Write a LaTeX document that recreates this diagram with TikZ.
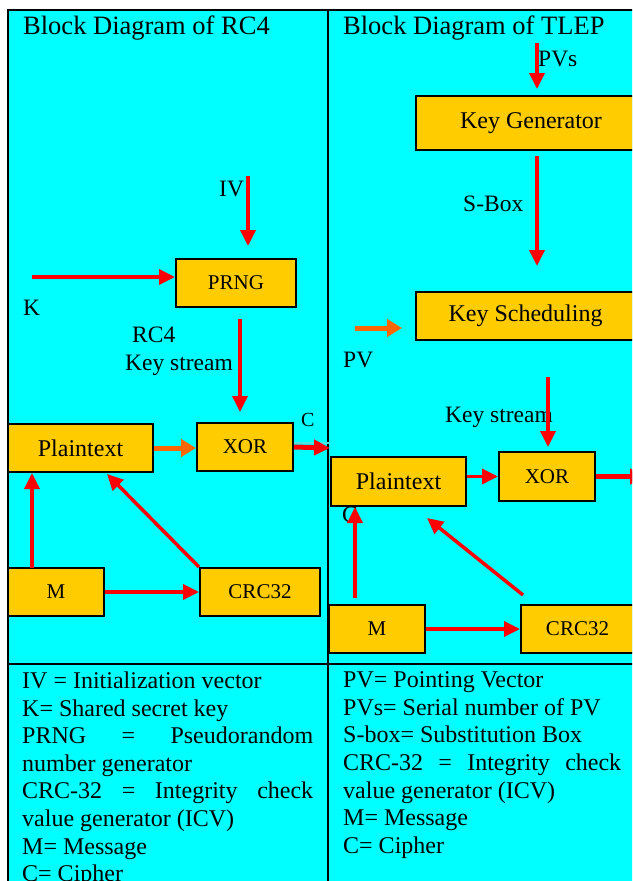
\documentclass[tikz,border=0pt]{standalone}
\usepackage{fontspec}
\setmainfont{Liberation Serif}
\usetikzlibrary{arrows.meta}
\hyphenpenalty=10000
\exhyphenpenalty=10000
\tolerance=10000

\definecolor{bgcyan}{RGB}{0,255,255}
\definecolor{boxgold}{RGB}{255,204,0}
\definecolor{arrred}{RGB}{255,0,0}
\definecolor{arrorange}{RGB}{255,102,0}
\definecolor{seamcyan}{RGB}{80,225,225}

\tikzset{
  blk/.style={draw=black, line width=2pt, fill=boxgold, inner sep=0pt,
    font=\fontsize{21}{25}\selectfont},
  bigblk/.style={blk, font=\fontsize{24}{28}\selectfont},
  redarr/.style={draw=arrred, line width=3.5pt, -{Triangle[length=16pt,width=15pt]}},
  orgarr/.style={draw=arrorange, line width=5pt, -{Triangle[length=15pt,width=17pt]}},
  outarr/.style={redarr, line width=5pt},
  lbl/.style={inner sep=0pt, anchor=base west, font=\fontsize{23.5}{28}\selectfont},
  ttl/.style={lbl, font=\fontsize{26.5}{30}\selectfont},
  legend/.style={inner sep=0pt, anchor=north west, align=justify,
    font=\fontsize{24}{27.6}\selectfont}
}

\begin{document}
\begin{tikzpicture}[x=1pt, y=-1pt]
  \useasboundingbox (0,0) rectangle (632,881);
  \clip (0,0) rectangle (632,881);
  \fill[white] (0,0) rectangle (632,881);
  \fill[bgcyan] (8,10) rectangle (640,890);

  % frame and dividers
  \draw[line width=2pt] (8,890) -- (8,10) -- (640,10);
  \draw[line width=2pt] (328,10) -- (328,890);
  \draw[line width=2pt] (8,664) -- (640,664);
  \draw[seamcyan, line width=1.5pt] (263,423) -- (263,443) -- (330,443);

  % Titles
  \node[ttl] (titleL) at (23,34) {Block Diagram of RC4};
  \node[ttl] (titleR) at (343,34) {Block Diagram of TLEP};

  % ---- RC4 ----
  \node[lbl] (ivlbl) at (219,196) {IV};
  \node[lbl] (klbl) at (23,315) {K};
  \node[lbl] (rclbl) at (132,342) {RC4};
  \node[lbl] (kslblL) at (125,370) {Key stream};
  \node[lbl, font=\fontsize{20}{24}\selectfont] (clblL) at (301,426) {C};

  \node[blk, minimum width=120pt, minimum height=48pt] (prng) at (236,283) {PRNG};
  \node[bigblk, minimum width=145pt, minimum height=48pt] (plainL) at (80.5,448) {Plaintext};
  \node[blk, minimum width=96pt, minimum height=48pt] (xorL) at (245,447) {XOR};
  \node[blk, minimum width=96pt, minimum height=48pt] (mL) at (56,592) {M};
  \node[blk, minimum width=120pt, minimum height=48pt] (crcL) at (260,592) {CRC32};

  \coordinate (ivin) at (248,176);
  \coordinate (kin) at (32,277);
  \coordinate (ksL) at (240,319);
  \coordinate (cL) at (330,448);
  \coordinate (mupL) at (32,568);
  \coordinate (ptL) at (107,474);

  \draw[redarr, shorten >=12pt] (ivin) -- (ivin |- prng.north);
  \draw[redarr] (kin) -- (kin -| prng.west);
  \draw[redarr, shorten >=10pt] (ksL) -- (ksL |- xorL.north);
  \draw[orgarr] (plainL.east) -- (plainL.east -| xorL.west);
  \draw[outarr] (xorL.east) -- (cL);
  \draw[redarr] (mupL) -- (mupL |- plainL.south);
  \draw[redarr] (crcL.north west) -- (ptL);
  \draw[redarr] (mL.east) -- (crcL.west);

  % ---- TLEP ----
  \node[lbl] (pvslbl) at (538,66) {PVs};
  \node[lbl] (sboxlbl) at (463,211) {S-Box};
  \node[lbl] (pvlbl) at (343,367) {PV};
  \node[lbl] (kslblR) at (445,422) {Key stream};
  \node[lbl] (clblR) at (342,522) {C};

  \node[bigblk, minimum width=230pt, minimum height=54pt] (keygen) at (531,123) {Key Generator};
  \node[bigblk, minimum width=219pt, minimum height=48pt] (keysch) at (525.5,316) {Key Scheduling};
  \node[bigblk, minimum width=135pt, minimum height=49pt] (plainR) at (398.5,481.5) {Plaintext};
  \node[blk, minimum width=96pt, minimum height=49pt] (xorR) at (547,476.5) {XOR};
  \node[blk, minimum width=96pt, minimum height=48pt] (mR) at (377,629) {M};
  \node[blk, minimum width=113pt, minimum height=48pt] (crcR) at (577.5,629) {CRC32};

  \coordinate (pvsin) at (537,43);
  \coordinate (pvin) at (355,328);
  \coordinate (ksR) at (548,377);
  \coordinate (cR) at (646,478);
  \coordinate (mupR) at (355,598);
  \coordinate (crcRtop) at (523,595);
  \coordinate (ptR) at (427,518);

  \draw[redarr, shorten >=6pt] (pvsin) -- (pvsin |- keygen.north);
  \draw[redarr, shorten <=5pt, shorten >=25pt] (keygen.south -| pvsin) -- (keysch.north -| pvsin);
  \draw[orgarr, shorten >=13pt] (pvin) -- (pvin -| keysch.west);
  \draw[redarr, shorten >=4pt] (ksR) -- (ksR |- xorR.north);
  \draw[redarr] (xorR.west -| plainR.east) -- (xorR.west);
  \draw[outarr] (xorR.east) -- (xorR.east -| cR);
  \draw[redarr] (mupR) -- (mupR |- plainR.south);
  \draw[redarr] (crcRtop) -- (ptR);
  \draw[redarr] (mR.east) -- (crcR.west);

  % Legend
  \node[legend, text width=291pt] (keyL) at (22,671.6) {IV = Initialization vector\\
    K= Shared secret key\\
    PRNG = Pseudorandom number generator\\
    CRC-32 = Integrity check value generator (ICV)\\
    M= Message\\
    C= Cipher};
  \node[legend, text width=278pt] (keyR) at (343,671.6) {PV= Pointing Vector\\
    PVs= Serial number of PV\\
    S-box= Substitution Box\\
    CRC-32 = Integrity check value generator (ICV)\\
    M= Message\\
    C= Cipher};
\end{tikzpicture}
\end{document}
